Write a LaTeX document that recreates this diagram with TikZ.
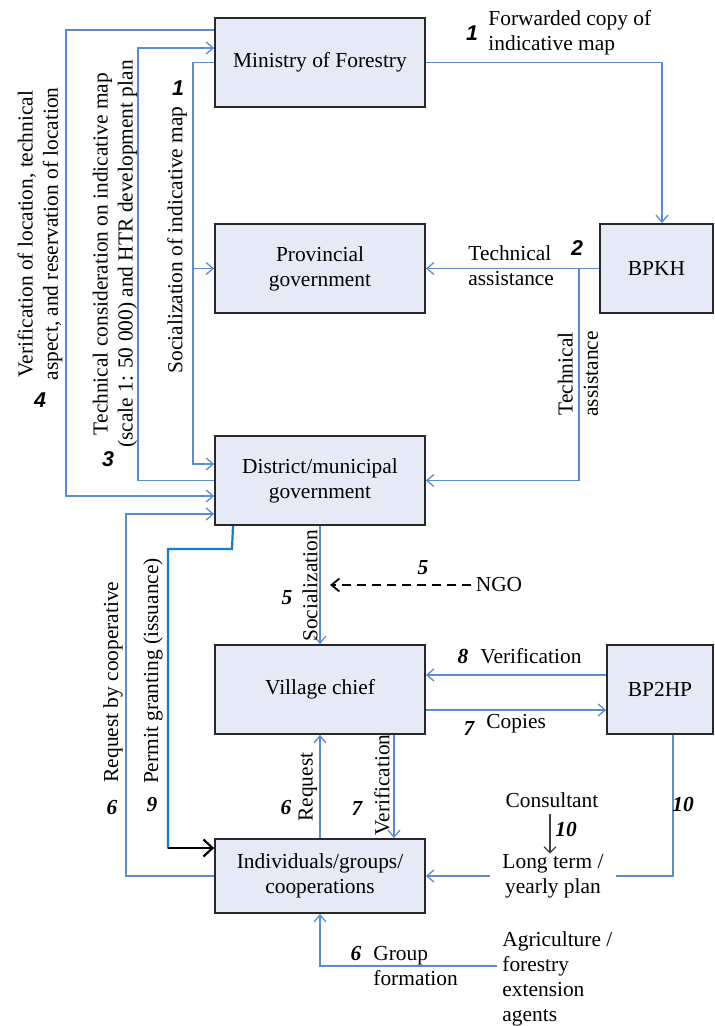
\documentclass[tikz,border=0pt]{standalone}
\usepackage{fontspec}
\setmainfont{Liberation Serif}
\newfontfamily\numsans{Liberation Sans}
\usetikzlibrary{arrows.meta}
\definecolor{flowblue}{RGB}{91,139,211}
\definecolor{boxfill}{RGB}{230,234,246}
\definecolor{permitblue}{RGB}{17,125,205}
\definecolor{boxline}{RGB}{40,40,40}
\begin{document}
\begin{tikzpicture}[x=0.5pt,y=-0.5pt,
  font=\fontsize{10.7}{12.6}\selectfont,
  orgbox/.style={draw=boxline, fill=boxfill, line width=0.9pt, minimum width=105pt, minimum height=44.5pt, inner sep=0pt, align=center},
  flow/.style={draw=flowblue, line width=0.65pt, -{Straight Barb[length=3.5pt,width=6pt]}},
  plainflow/.style={draw=flowblue, line width=0.65pt},
  lbl/.style={inner sep=0pt, align=left, anchor=west},
  vlbl/.style={inner sep=0pt, align=center, rotate=90},
  numser/.style={inner sep=0pt, font=\fontsize{10.7}{12.6}\selectfont\bfseries\itshape},
  numsan/.style={inner sep=0pt, font=\fontsize{10.7}{12.6}\selectfont\numsans\bfseries\itshape},
]
\useasboundingbox (0,0) rectangle (714,1026);

% boxes
\node[orgbox] (min) at (320,62.5) {Ministry of Forestry};
\node[orgbox] (prov) at (320,268.5) {Provincial\\government};
\node[orgbox, minimum width=56.5pt] (bpkh) at (656.5,268.5) {BPKH};
\node[orgbox] (dist) at (320,480.5) {District/municipal\\government};
\node[orgbox] (vill) at (320,689.5) {Village chief};
\node[orgbox, minimum width=53pt] (bp2hp) at (660,689.5) {BP2HP};
\node[orgbox, minimum height=37pt] (ind) at (320,876) {Individuals/groups/\\cooperations};

% free text nodes
\node[inner sep=0pt] (ngo) at (499,585) {NGO};
\node[inner xsep=6pt, inner ysep=0pt, align=center] (plan) at (553,876) {Long term /\\yearly plan};
\node[inner xsep=0pt, inner ysep=3pt] (cons) at (552,800) {Consultant};
\node[lbl, inner xsep=2.5pt] (agri) at (497,979) {Agriculture /\\forestry\\extension\\agents};

% top connectors
\draw[flow] (min.east) -- (662,62.5) -- (bpkh.north -| 662,0);
\draw[flow] (bpkh.west) -- (prov.east);
\draw[flow] (579,268.5) -- (579,480.5) -- (dist.east);

% left connectors
\draw[flow] (min.west) -- (193,62.5) -- (193,464) -- (dist.west |- 0,464);
\draw[flow] (193,268.5) -- (prov.west);
\draw[flow] (dist.west) -- (138,480.5) -- (138,48) -- (min.west |- 0,48);
\draw[flow] (min.west |- 0,30) -- (66,30) -- (66,496) -- (dist.west |- 0,496);
\draw[flow] (ind.west) -- (126,876) -- (126,514) -- (dist.west |- 0,514);
\draw[permitblue, line width=1.1pt] (dist.south -| 233,0) -- (232,549) -- (168,549) -- (168,848.5);
\draw[black, line width=1.1pt, -{Straight Barb[length=4.5pt,width=8.5pt]}] (168,848) -- (ind.west |- 0,848);

% middle connectors
\draw[flow] (dist.south) -- (vill.north);
\draw[black, line width=0.9pt, dash pattern=on 4.5pt off 3pt, -{Straight Barb[length=4pt,width=6.5pt]}] (ngo.west) ++(-4,0) -- (330,585);
\draw[flow] (ind.north) -- (vill.south);
\draw[flow] (vill.south -| 394,0) -- (ind.north -| 394,0);
\draw[flow] (bp2hp.west |- 0,675) -- (vill.east |- 0,675);
\draw[flow] (vill.east |- 0,710) -- (bp2hp.west |- 0,710);

% bottom connectors
\draw[plainflow] (bp2hp.south -| 673,0) -- (673,876) -- (plan.east);
\draw[flow] (plan.west) -- (ind.east);
\draw[draw=black!75, line width=0.6pt, -{Straight Barb[length=3pt,width=6pt]}] (cons.south -| 550,0) -- (plan.north -| 550,0);
\draw[flow] (agri.west |- 0,966) -- (320,966) -- (ind.south);

% labels top
\node[numsan] (n1a) at (472,33) {1};
\node[lbl] (l1a) at (488,32.5) {Forwarded copy of\\indicative map};
\node[lbl] (l2a) at (468,266) {Technical\\assistance};
\node[numsan] (n2) at (577,248) {2};
\node[vlbl] (l2b) at (578,374) {Technical\\assistance};

% labels left
\node[vlbl] (l4) at (40,234) {Verification of location, technical\\aspect, and reservation of location};
\node[numsan] (n4) at (40,400) {4};
\node[vlbl] (l3) at (115,254) {Technical consideration on indicative map\\(scale 1: 50 000) and HTR development plan};
\node[numsan] (n3) at (108,459) {3};
\node[vlbl] (l1b) at (177,240) {Socialization of indicative map};
\node[numsan] (n1b) at (178,88) {1};
\node[vlbl] (l6a) at (113,682) {Request by cooperative};
\node[numser] (n6a) at (112,808) {6};
\node[vlbl] (l9) at (153,671) {Permit granting (issuance)};
\node[numser] (n9) at (152,805) {9};

% labels middle
\node[vlbl] (l5a) at (310,586) {Socialization};
\node[numser] (n5a) at (287,598) {5};
\node[numser] (n5b) at (423,568) {5};
\node[vlbl] (l6b) at (308,787) {Request};
\node[numser] (n6b) at (286,808) {6};
\node[vlbl] (l7a) at (382,785) {Verification};
\node[numser] (n7a) at (357,808) {7};
\node[numser] (n8) at (463,656) {8};
\node[lbl] (l8) at (480,656) {Verification};
\node[numser] (n7b) at (469,728) {7};
\node[lbl] (l7b) at (486,724) {Copies};

% labels bottom
\node[numser] (n10a) at (683,804) {10};
\node[numser] (n10b) at (566,829) {10};
\node[numser] (n6c) at (356,954) {6};
\node[lbl] (l6c) at (373,966) {Group\\formation};
\end{tikzpicture}
\end{document}
